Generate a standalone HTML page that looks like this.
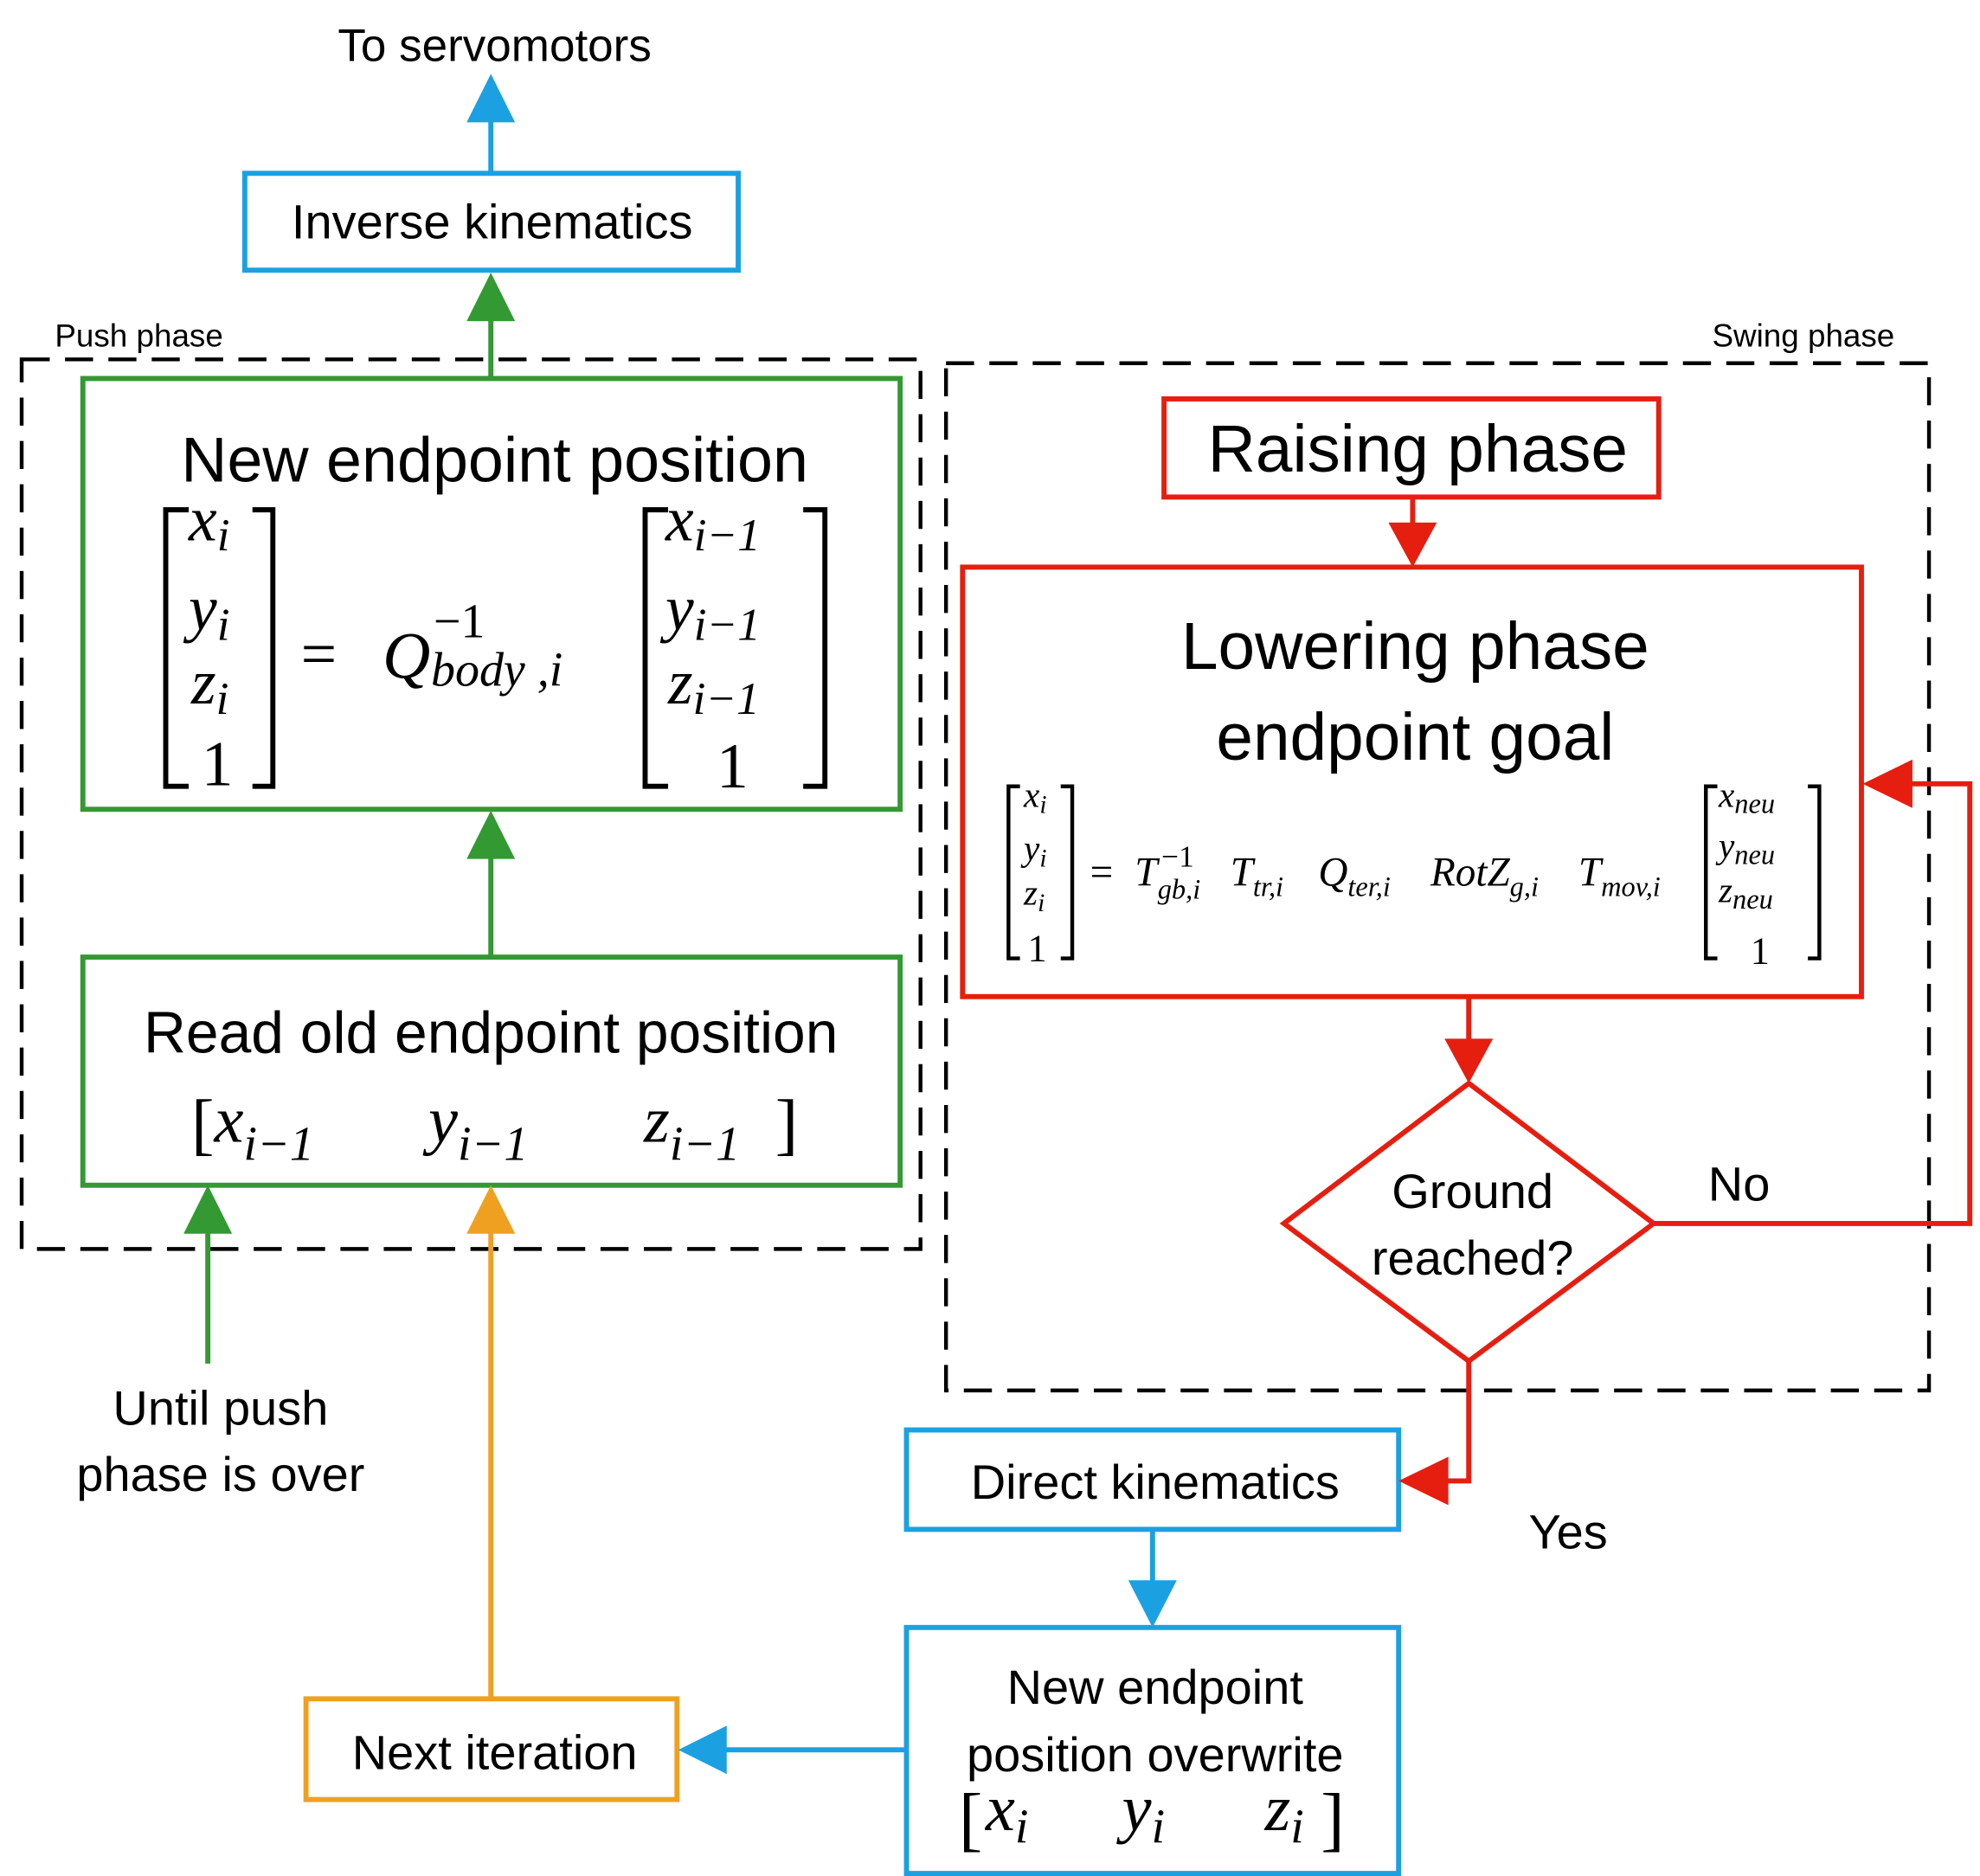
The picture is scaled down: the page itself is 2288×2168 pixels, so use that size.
<!DOCTYPE html>
<html><head><meta charset="utf-8"><style>
html,body{margin:0;padding:0;background:#fff}
svg{display:block}
.s{font-family:"Liberation Sans","DejaVu Sans",sans-serif;fill:#000}
.m{font-family:"Liberation Serif","DejaVu Serif",serif;font-style:italic;fill:#000}
.n{font-family:"Liberation Serif","DejaVu Serif",serif;fill:#000}
</style></head><body>
<svg width="2288" height="2168" viewBox="0 0 1553 1472" preserveAspectRatio="none" xmlns="http://www.w3.org/2000/svg">
<defs></defs>
<!-- dashed groups -->
<rect x="17" y="282" width="705" height="698" fill="none" stroke="#000" stroke-width="3" stroke-dasharray="22,12"/>
<rect x="742" y="285" width="771" height="806" fill="none" stroke="#000" stroke-width="3" stroke-dasharray="22,12"/>
<text x="43" y="272" class="s" font-size="25">Push phase</text>
<text x="1486" y="272" class="s" font-size="25" text-anchor="end">Swing phase</text>

<!-- To servomotors -->
<text x="388" y="48" class="s" font-size="36" text-anchor="middle">To servomotors</text>
<line x1="385" y1="136" x2="385" y2="92" stroke="#1ba1e2" stroke-width="4"/>
<polygon points="366,96 404,96 385,58" fill="#1ba1e2"/>
<rect x="192" y="136" width="387" height="76" fill="none" stroke="#1ba1e2" stroke-width="4"/>
<text x="386" y="187" class="s" font-size="38" text-anchor="middle">Inverse kinematics</text>

<line x1="385" y1="297" x2="385" y2="248" stroke="#339933" stroke-width="4"/>
<polygon points="366,252 404,252 385,214" fill="#339933"/>

<!-- New endpoint position -->
<rect x="65" y="297" width="641" height="338" fill="none" stroke="#339933" stroke-width="4"/>
<text x="388" y="378" class="s" font-size="50" text-anchor="middle">New endpoint position</text>
<path d="M148,400 H130 V617 H148 M198,400 H214 V617 H198" fill="none" stroke="#000" stroke-width="4"/>
<text x="148" y="424" class="m" font-size="50">x<tspan font-size="36" dy="8">i</tspan></text>
<text x="148" y="494" class="m" font-size="50">y<tspan font-size="36" dy="8">i</tspan></text>
<text x="150" y="552" class="m" font-size="50">z<tspan font-size="36" dy="8">i</tspan></text>
<text x="158" y="616" class="n" font-size="50">1</text>
<text x="236" y="530" class="n" font-size="50">=</text>
<text x="300" y="532" class="m" font-size="52">Q</text>
<text x="340" y="500" class="n" font-size="38">−1</text>
<text x="338" y="538" class="m" font-size="38">body ,i</text>
<path d="M524,400 H506 V617 H524 M630,400 H647 V617 H630" fill="none" stroke="#000" stroke-width="4"/>
<text x="522" y="424" class="m" font-size="50">x<tspan font-size="36" dy="8">i−1</tspan></text>
<text x="522" y="494" class="m" font-size="50">y<tspan font-size="36" dy="8">i−1</tspan></text>
<text x="524" y="552" class="m" font-size="50">z<tspan font-size="36" dy="8">i−1</tspan></text>
<text x="562" y="618" class="n" font-size="50">1</text>

<line x1="385" y1="751" x2="385" y2="670" stroke="#339933" stroke-width="4"/>
<polygon points="366,674 404,674 385,636" fill="#339933"/>

<!-- Read old -->
<rect x="65" y="751" width="641" height="179" fill="none" stroke="#339933" stroke-width="4"/>
<text x="385" y="826" class="s" font-size="46" text-anchor="middle">Read old endpoint position</text>
<text x="150" y="900" class="n" font-size="54">[</text>
<text x="168" y="896" class="m" font-size="52">x<tspan font-size="38" dy="14">i−1</tspan></text>
<text x="336" y="896" class="m" font-size="52">y<tspan font-size="38" dy="14">i−1</tspan></text>
<text x="505" y="896" class="m" font-size="52">z<tspan font-size="38" dy="14">i−1</tspan></text>
<text x="608" y="900" class="n" font-size="54">]</text>

<line x1="163" y1="1070" x2="163" y2="965" stroke="#339933" stroke-width="4"/>
<polygon points="144,968 182,968 163,930" fill="#339933"/>
<text x="173" y="1118" class="s" font-size="38" text-anchor="middle">Until push</text>
<text x="173" y="1170" class="s" font-size="38" text-anchor="middle">phase is over</text>

<line x1="385" y1="1333" x2="385" y2="965" stroke="#f0a020" stroke-width="4"/>
<polygon points="366,968 404,968 385,930" fill="#f0a020"/>

<!-- Next iteration -->
<rect x="240" y="1333" width="291" height="79" fill="none" stroke="#f0a020" stroke-width="4"/>
<text x="388" y="1388" class="s" font-size="38" text-anchor="middle">Next iteration</text>
<line x1="711" y1="1373" x2="566" y2="1373" stroke="#1ba1e2" stroke-width="4"/>
<polygon points="570,1354 570,1392 532,1373" fill="#1ba1e2"/>

<!-- New endpoint position overwrite -->
<rect x="711" y="1277" width="386" height="193" fill="none" stroke="#1ba1e2" stroke-width="4"/>
<text x="906" y="1337" class="s" font-size="38" text-anchor="middle">New endpoint</text>
<text x="906" y="1390" class="s" font-size="38" text-anchor="middle">position overwrite</text>
<text x="752" y="1446" class="n" font-size="56">[</text>
<text x="773" y="1436" class="m" font-size="52">x<tspan font-size="38" dy="10">i</tspan></text>
<text x="880" y="1436" class="m" font-size="52">y<tspan font-size="38" dy="10">i</tspan></text>
<text x="992" y="1436" class="m" font-size="52">z<tspan font-size="38" dy="10">i</tspan></text>
<text x="1036" y="1446" class="n" font-size="56">]</text>

<!-- Direct kinematics -->
<rect x="711" y="1122" width="386" height="78" fill="none" stroke="#1ba1e2" stroke-width="4"/>
<text x="906" y="1176" class="s" font-size="38" text-anchor="middle">Direct kinematics</text>
<line x1="904" y1="1200" x2="904" y2="1242" stroke="#1ba1e2" stroke-width="4"/>
<polygon points="885,1240 923,1240 904,1277" fill="#1ba1e2"/>

<!-- Raising phase -->
<rect x="913" y="313" width="388" height="77" fill="none" stroke="#e61e10" stroke-width="4"/>
<text x="1112" y="370" class="s" font-size="52" text-anchor="middle">Raising phase</text>
<line x1="1108" y1="390" x2="1108" y2="412" stroke="#e61e10" stroke-width="4"/>
<polygon points="1089,410 1127,410 1108,445" fill="#e61e10"/>

<!-- Lowering -->
<rect x="755" y="445" width="705" height="337" fill="none" stroke="#e61e10" stroke-width="4"/>
<text x="1110" y="525" class="s" font-size="52" text-anchor="middle">Lowering phase</text>
<text x="1110" y="596" class="s" font-size="52" text-anchor="middle">endpoint goal</text>
<path d="M800,617 H791 V752 H800 M832,617 H841 V752 H832" fill="none" stroke="#000" stroke-width="3"/>
<text x="803" y="633" class="m" font-size="28">x<tspan font-size="20" dy="5">i</tspan></text>
<text x="803" y="675" class="m" font-size="28">y<tspan font-size="20" dy="5">i</tspan></text>
<text x="803" y="710" class="m" font-size="28">z<tspan font-size="20" dy="5">i</tspan></text>
<text x="806" y="754" class="n" font-size="30">1</text>
<text x="855" y="695" class="n" font-size="32">=</text>
<text x="890" y="695" class="m" font-size="32">T</text>
<text x="911" y="680" class="n" font-size="24">−1</text>
<text x="908" y="705" class="m" font-size="22">gb,i</text>
<text x="965" y="695" class="m" font-size="32">T<tspan font-size="22" dy="8">tr,i</tspan></text>
<text x="1034" y="695" class="m" font-size="32">Q<tspan font-size="22" dy="8">ter,i</tspan></text>
<text x="1122" y="695" class="m" font-size="32">RotZ<tspan font-size="22" dy="8">g,i</tspan></text>
<text x="1238" y="695" class="m" font-size="32">T<tspan font-size="22" dy="8">mov,i</tspan></text>
<path d="M1347,617 H1338 V752 H1347 M1418,617 H1427 V752 H1418" fill="none" stroke="#000" stroke-width="3"/>
<text x="1348" y="633" class="m" font-size="28">x<tspan font-size="22" dy="5">neu</tspan></text>
<text x="1348" y="673" class="m" font-size="28">y<tspan font-size="22" dy="5">neu</tspan></text>
<text x="1348" y="708" class="m" font-size="28">z<tspan font-size="22" dy="5">neu</tspan></text>
<text x="1373" y="756" class="n" font-size="30">1</text>

<line x1="1152" y1="782" x2="1152" y2="818" stroke="#e61e10" stroke-width="4"/>
<polygon points="1133,815 1171,815 1152,850" fill="#e61e10"/>

<!-- diamond -->
<polygon points="1152,850 1297,960 1152,1068 1007,960" fill="none" stroke="#e61e10" stroke-width="4"/>
<text x="1155" y="948" class="s" font-size="38" text-anchor="middle">Ground</text>
<text x="1155" y="1000" class="s" font-size="38" text-anchor="middle">reached?</text>

<polyline points="1297,960 1545,960 1545,615 1496,615" fill="none" stroke="#e61e10" stroke-width="4"/>
<polygon points="1500,596 1500,634 1461,615" fill="#e61e10"/>
<text x="1364" y="942" class="s" font-size="38" text-anchor="middle">No</text>

<polyline points="1152,1068 1152,1162 1132,1162" fill="none" stroke="#e61e10" stroke-width="4"/>
<polygon points="1136,1143 1136,1181 1097,1162" fill="#e61e10"/>
<text x="1230" y="1215" class="s" font-size="38" text-anchor="middle">Yes</text>
</svg>
</body></html>
